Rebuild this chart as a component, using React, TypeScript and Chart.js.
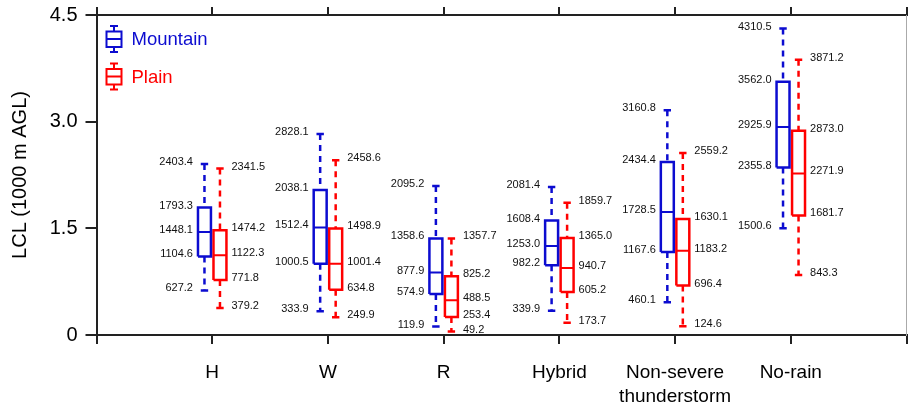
import React, { useEffect, useRef } from 'react';
import { Chart, registerables } from 'chart.js';

Chart.register(...registerables);

// ---- data (LCL, metres AGL) ----
const categories = ['H', 'W', 'R', 'Hybrid', 'Non-severe thunderstorm', 'No-rain'];

const mountainMin = [627.2, 333.9, 119.9, 339.9, 460.1, 1500.6];
const mountainQ1 = [1104.6, 1000.5, 574.9, 982.2, 1167.6, 2355.8];
const mountainMedian = [1448.1, 1512.4, 877.9, 1253.0, 1728.5, 2925.9];
const mountainQ3 = [1793.3, 2038.1, 1358.6, 1608.4, 2434.4, 3562.0];
const mountainMax = [2403.4, 2828.1, 2095.2, 2081.4, 3160.8, 4310.5];

const plainMin = [379.2, 249.9, 49.2, 173.7, 124.6, 843.3];
const plainQ1 = [771.8, 634.8, 253.4, 605.2, 696.4, 1681.7];
const plainMedian = [1122.3, 1001.4, 488.5, 940.7, 1183.2, 2271.9];
const plainQ3 = [1474.2, 1498.9, 825.2, 1365.0, 1630.1, 2873.0];
const plainMax = [2341.5, 2458.6, 1357.7, 1859.7, 2559.2, 3871.2];

const yTickValues = [0, 1.5, 3.0, 4.5];

// ---- styling / geometry ----
const BLUE = '#0c0cd0';
const RED = '#ff0000';
const AXIS = '#222222';
const FONT = '"Liberation Sans", Arial, Helvetica, sans-serif';
const BOX_HALF = 0.056;
const CAP_HALF = 0.032;
const OFFSET = 0.067;

type Series = {
  name: string;
  color: string;
  offset: number;
  side: 'left' | 'right';
  min: number[];
  q1: number[];
  median: number[];
  q3: number[];
  max: number[];
};

const seriesList: Series[] = [
  { name: 'Mountain', color: BLUE, offset: -OFFSET, side: 'left', min: mountainMin, q1: mountainQ1, median: mountainMedian, q3: mountainQ3, max: mountainMax },
  { name: 'Plain', color: RED, offset: OFFSET, side: 'right', min: plainMin, q1: plainQ1, median: plainMedian, q3: plainQ3, max: plainMax },
];

const k = (v: number) => v / 1000;

function buildDatasets(s: Series) {
  const whisk: any[] = [];
  const caps: any[] = [];
  const box: any[] = [];
  const med: any[] = [];
  categories.forEach((_, i) => {
    const xc = i + 1 + s.offset;
    const xl = xc - BOX_HALF;
    const xr = xc + BOX_HALF;
    whisk.push(
      { x: xc, y: k(s.max[i]) }, { x: xc, y: k(s.q3[i]) }, { x: xc, y: null },
      { x: xc, y: k(s.q1[i]) }, { x: xc, y: k(s.min[i]) }, { x: xc, y: null },
    );
    caps.push(
      { x: xc - CAP_HALF, y: k(s.max[i]) }, { x: xc + CAP_HALF, y: k(s.max[i]) }, { x: xc, y: null },
      { x: xc - CAP_HALF, y: k(s.min[i]) }, { x: xc + CAP_HALF, y: k(s.min[i]) }, { x: xc, y: null },
    );
    box.push(
      { x: xl, y: k(s.q1[i]) }, { x: xr, y: k(s.q1[i]) }, { x: xr, y: k(s.q3[i]) },
      { x: xl, y: k(s.q3[i]) }, { x: xl, y: k(s.q1[i]) }, { x: xc, y: null },
    );
    med.push({ x: xl, y: k(s.median[i]) }, { x: xr, y: k(s.median[i]) }, { x: xc, y: null });
  });
  const base = {
    type: 'line' as const,
    borderColor: s.color,
    pointRadius: 0,
    pointHoverRadius: 0,
    fill: false,
    tension: 0,
    spanGaps: false,
    borderCapStyle: 'butt' as const,
    borderJoinStyle: 'miter' as const,
  };
  return [
    { ...base, label: s.name + ' whiskers', data: whisk, borderWidth: 2.5, borderDash: [6, 5] },
    { ...base, label: s.name + ' caps', data: caps, borderWidth: 2.5 },
    { ...base, label: s.name + ' box', data: box, borderWidth: 2.5 },
    { ...base, label: s.name + ' median', data: med, borderWidth: 2 },
  ];
}

const valueLabels = {
  id: 'valueLabels',
  afterDatasetsDraw(chart: any) {
    const { ctx, scales } = chart;
    const x = scales.x;
    const y = scales.y;
    ctx.save();
    ctx.font = `11px ${FONT}`;
    ctx.fillStyle = '#111';
    ctx.textBaseline = 'middle';
    seriesList.forEach((s) => {
      categories.forEach((_, i) => {
        const xc = i + 1 + s.offset;
        const px = s.side === 'left'
          ? x.getPixelForValue(xc - BOX_HALF) - 5
          : x.getPixelForValue(xc + BOX_HALF) + 5;
        ctx.textAlign = s.side === 'left' ? 'right' : 'left';
        [s.min, s.q1, s.median, s.q3, s.max].forEach((arr) => {
          ctx.fillText(arr[i].toFixed(1), px, y.getPixelForValue(k(arr[i])) - 2);
        });
      });
    });
    ctx.restore();
  },
};

const boxLegend = {
  id: 'boxLegend',
  afterDraw(chart: any) {
    const { ctx, chartArea } = chart;
    ctx.save();
    seriesList.forEach((s, idx) => {
      const cx = chartArea.left + 17.5;
      const cy = chartArea.top + 24 + idx * 37.5;
      ctx.strokeStyle = s.color;
      ctx.lineWidth = 2;
      ctx.beginPath();
      ctx.moveTo(cx - 4, cy - 13); ctx.lineTo(cx + 4, cy - 13);
      ctx.moveTo(cx, cy - 13); ctx.lineTo(cx, cy - 7.5);
      ctx.moveTo(cx - 4, cy + 13); ctx.lineTo(cx + 4, cy + 13);
      ctx.moveTo(cx, cy + 13); ctx.lineTo(cx, cy + 8);
      ctx.moveTo(cx - 7.5, cy); ctx.lineTo(cx + 7.5, cy);
      ctx.rect(cx - 7.5, cy - 7.5, 15, 15.5);
      ctx.stroke();
      ctx.fillStyle = s.color;
      ctx.font = `18.5px ${FONT}`;
      ctx.textAlign = 'left';
      ctx.textBaseline = 'middle';
      ctx.fillText(s.name, chartArea.left + 35, cy + 1);
    });
    ctx.restore();
  },
};

export default function App() {
  const canvasRef = useRef<HTMLCanvasElement | null>(null);

  useEffect(() => {
    if (!canvasRef.current) return;
    const datasets = seriesList.flatMap((s) => buildDatasets(s));
    const chart = new Chart(canvasRef.current, {
      type: 'line',
      data: { datasets: datasets as any },
      options: {
        animation: false,
        responsive: false,
        maintainAspectRatio: false,
        devicePixelRatio: 1,
        layout: { padding: 0 },
        plugins: {
          legend: { display: false },
          tooltip: { enabled: false },
        },
        scales: {
          x: {
            type: 'linear',
            position: 'bottom',
            min: 0,
            max: 7,
            afterBuildTicks: (s: any) => {
              s.ticks = [0, 1, 2, 3, 4, 5, 6, 7].map((v) => ({ value: v }));
            },
            ticks: {
              autoSkip: false,
              maxRotation: 0,
              padding: 17,
              color: '#000',
              font: { family: FONT, size: 19, lineHeight: 1.25 },
              callback: (v: any) => {
                const c = categories[Number(v) - 1];
                if (!c) return '';
                return c.includes(' ') ? c.split(' ') : c;
              },
            },
            grid: { drawOnChartArea: false, drawTicks: true, tickLength: 9, color: AXIS, lineWidth: 2 },
            border: { display: true, color: AXIS, width: 2 },
            afterFit: (s: any) => { s.height = 72; s.paddingLeft = 0; s.paddingRight = 0; },
          },
          xTop: {
            type: 'linear',
            position: 'top',
            min: 0,
            max: 7,
            afterBuildTicks: (s: any) => {
              s.ticks = [0, 1, 2, 3, 4, 5, 6, 7].map((v) => ({ value: v }));
            },
            ticks: { display: false },
            grid: { drawOnChartArea: false, drawTicks: true, tickLength: 8, color: AXIS, lineWidth: 2 },
            border: { display: true, color: AXIS, width: 2 },
            afterFit: (s: any) => { s.height = 15; s.paddingLeft = 0; s.paddingRight = 0; },
          },
          y: {
            type: 'linear',
            position: 'left',
            min: 0,
            max: 4.5,
            afterBuildTicks: (s: any) => {
              s.ticks = yTickValues.map((v) => ({ value: v }));
            },
            ticks: {
              padding: 8,
              color: '#000',
              font: { family: FONT, size: 20 },
              callback: (v: any) => (Number(v) === 0 ? '0' : Number(v).toFixed(1)),
            },
            grid: { drawOnChartArea: false, drawTicks: true, tickLength: 11, color: AXIS, lineWidth: 2 },
            border: { display: true, color: AXIS, width: 2 },
            title: {
              display: true,
              text: 'LCL (1000 m AGL)',
              color: '#000',
              font: { family: FONT, size: 20 },
              padding: { top: 8, bottom: 0 },
            },
            afterFit: (s: any) => { s.width = 96.5; s.paddingTop = 0; s.paddingBottom = 0; },
          },
          yRight: {
            type: 'linear',
            position: 'right',
            min: 0,
            max: 4.5,
            ticks: { display: false },
            grid: { drawOnChartArea: false, drawTicks: false },
            border: { display: true, color: '#aaaaaa', width: 1 },
            afterFit: (s: any) => { s.width = 1.5; s.paddingTop = 0; s.paddingBottom = 0; },
          },
        },
      } as any,
      plugins: [valueLabels, boxLegend],
    });
    return () => chart.destroy();
  }, []);

  return (
    <div style={{ position: 'absolute', left: 0, top: 0, width: 908, height: 407, background: '#fff' }}>
      <canvas ref={canvasRef} width={908} height={407} style={{ width: 908, height: 407, display: 'block' }} />
    </div>
  );
}
